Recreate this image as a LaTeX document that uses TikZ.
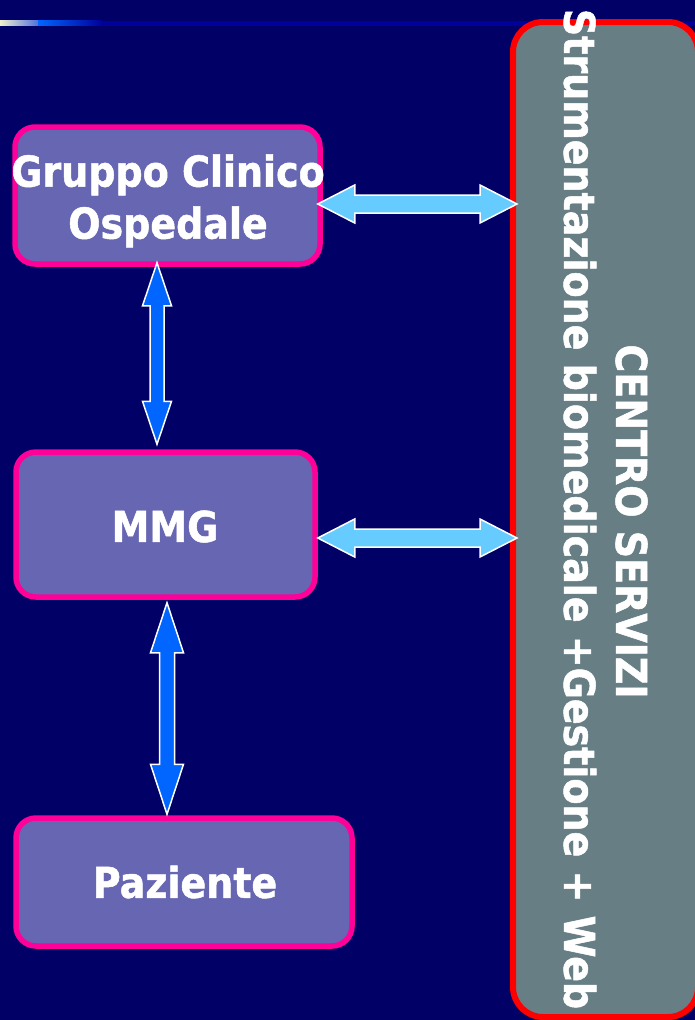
\documentclass[tikz,border=0pt]{standalone}
\usepackage{fontspec}
\setmainfont{DejaVu Sans}[FakeStretch=0.894, BoldFeatures={FakeBold=1.2}]
\usetikzlibrary{calc}
\definecolor{bg}{RGB}{0,0,102}
\definecolor{boxfill}{RGB}{102,102,178}
\definecolor{mag}{RGB}{255,0,153}
\definecolor{cfill}{RGB}{103,127,132}
\definecolor{lblue}{RGB}{102,204,255}
\definecolor{dblue}{RGB}{0,102,255}
\definecolor{cream}{RGB}{242,238,205}
\definecolor{lineblue}{RGB}{0,0,155}
\newcommand\varr[6]{\path[#1] let \p1=#2, \p2=#3 in
 (\x1,\y1) -- (\x1+#5,\y1-#6) -- (\x1+#4,\y1-#6) -- (\x1+#4,\y2+#6) -- (\x1+#5,\y2+#6) -- (\x1,\y2)
 -- (\x1-#5,\y2+#6) -- (\x1-#4,\y2+#6) -- (\x1-#4,\y1-#6) -- (\x1-#5,\y1-#6) -- cycle;}
\newcommand\harr[6]{\path[#1] let \p1=#2, \p2=#3 in
 (\x1,\y1) -- (\x1+#6,\y1+#5) -- (\x1+#6,\y1+#4) -- (\x2-#6,\y1+#4) -- (\x2-#6,\y1+#5) -- (\x2,\y1)
 -- (\x2-#6,\y1-#5) -- (\x2-#6,\y1-#4) -- (\x1+#6,\y1-#4) -- (\x1+#6,\y1-#5) -- cycle;}
\begin{document}
\begin{tikzpicture}[x=1pt,y=-1pt,
  lbox/.style={draw=mag, line width=5.5pt, fill=boxfill, rounded corners=20pt, inner sep=0pt},
  cbox/.style={draw=red, line width=6pt, fill=cfill, rounded corners=30pt, inner sep=0pt,
     minimum width=185pt, minimum height=995pt},
  txt/.style={text=white, font=\bfseries\fontsize{42.5}{52}\selectfont, inner sep=0pt},
  lharrow/.style={fill=lblue, draw=white, line width=1.5pt, line join=miter},
  dvarrow/.style={fill=dblue, draw=white, line width=1.5pt, line join=miter}]
\useasboundingbox (0,0) rectangle (695,1020);
\clip (0,0) rectangle (695,1020);
\fill[bg] (0,0) rectangle (695,1020);
% top rule
\fill[lineblue] (100,20.5) rectangle (695,25.5);
\shade[left color=cream, right color={rgb,255:red,80;green,115;blue,220}] (0,20.5) rectangle (38,25.5);
\shade[left color=dblue, right color=lineblue] (38,20.5) rectangle (102,25.5);
% boxes
\node[cbox] (c) at (605.5,519.5) {};
\node[lbox, minimum width=305pt, minimum height=137pt] (g) at (167.5,195.5) {};
\node[lbox, minimum width=299pt, minimum height=145pt] (m) at (165.5,524.5) {};
\node[lbox, minimum width=336pt, minimum height=128pt] (p) at (184,882) {};
% texts
\node[txt, align=center] (gt) at (168,200.9) {Gruppo Clinico\\Ospedale};
\node[txt] (mt) at (165,526.5) {MMG};
\node[txt] (pt) at (185,882) {Paziente};
\node[txt, rotate=-90] (st) at (580,509) {Strumentazione biomedicale +Gestione + Web};
\node[txt, rotate=-90] (ct) at (631.5,521.5) {CENTRO SERVIZI};
% arrows
\harr{lharrow}{($(g.east)+(-5,8.5)$)}{($(c.west)+(7,0)$)}{9pt}{19pt}{37pt}
\harr{lharrow}{($(m.east)+(0,13.5)$)}{($(c.west)+(7,0)$)}{9pt}{19pt}{37pt}
\varr{dvarrow}{($(g.south)+(-10.5,-4)$)}{($(m.north)+(0,-5)$)}{7pt}{14.5pt}{43pt}
\varr{dvarrow}{($(m.south)+(1.5,3)$)}{($(p.north)+(0,-1)$)}{7.5pt}{16.5pt}{50pt}
\end{tikzpicture}
\end{document}
